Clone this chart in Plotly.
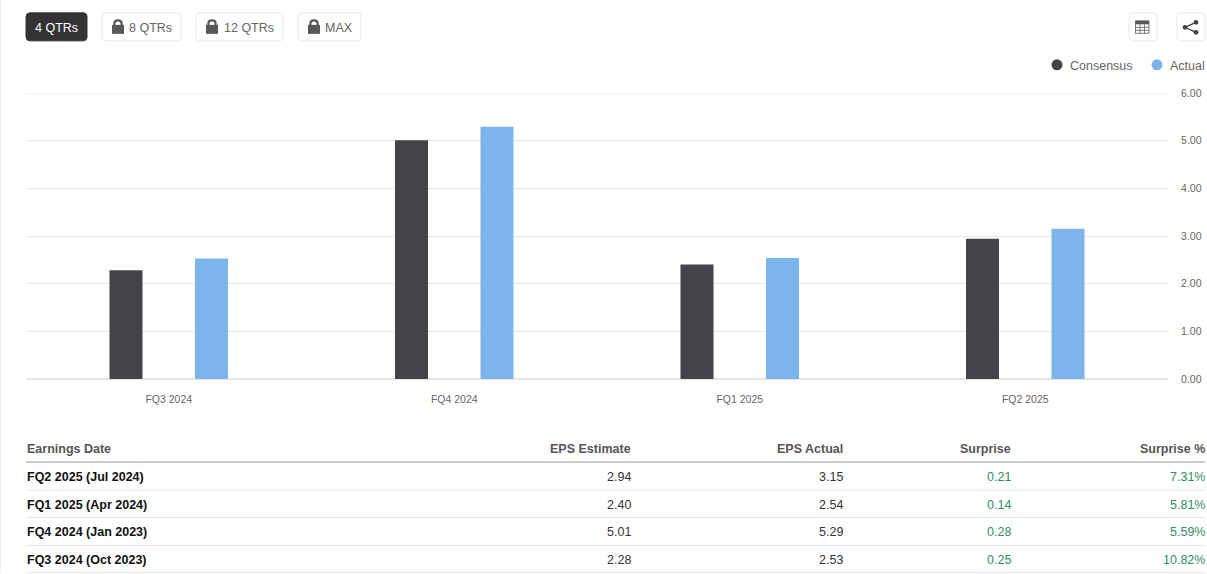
import plotly.graph_objects as go

W, H = 1207, 574
L, R, T, B = 26, 1168, 93.2, 379.4

quarters = ["FQ3 2024", "FQ4 2024", "FQ1 2025", "FQ2 2025"]
consensus = [2.28, 5.01, 2.40, 2.94]
actual = [2.53, 5.29, 2.54, 3.15]
y_ticks = [0, 1, 2, 3, 4, 5, 6]

table_headers = ["Earnings Date", "EPS Estimate", "EPS Actual", "Surprise", "Surprise %"]
row_dates = ["FQ2 2025 (Jul 2024)", "FQ1 2025 (Apr 2024)", "FQ4 2024 (Jan 2023)", "FQ3 2024 (Oct 2023)"]
row_estimate = ["2.94", "2.40", "5.01", "2.28"]
row_actual = ["3.15", "2.54", "5.29", "2.53"]
row_surprise = ["0.21", "0.14", "0.28", "0.25"]
row_surprise_pct = ["7.31%", "5.81%", "5.59%", "10.82%"]

range_buttons = ["4 QTRs", "8 QTRs", "12 QTRs", "MAX"]

FONT = "Liberation Sans, Arial, sans-serif"
DARK = "#434348"
BLUE = "#7cb5ec"
GRID = "#e6e6e6"
GREEN = "#2f8f5f"
ICON = "#58585a"


def px(x):
    return (x - L) / (R - L)


def py(y):
    return (B - y) / (B - T)


def P(x, y):
    return f"{px(x):.5f},{py(y):.5f}"


annotations = []
shapes = []


def text(x, y, s, size=12.5, color="#333", anchor="left", bold=False):
    annotations.append(dict(
        xref="paper", yref="paper", x=px(x), y=py(y), text=f"<b>{s}</b>" if bold else s,
        showarrow=False, xanchor=anchor, yanchor="middle", align=anchor,
        font=dict(family=FONT, size=size, color=color),
        borderpad=0, borderwidth=0,
    ))


def hline(x0, x1, y, color, width=1):
    shapes.append(dict(type="line", xref="paper", yref="paper", x0=px(x0), x1=px(x1),
                       y0=py(y), y1=py(y), line=dict(color=color, width=width), layer="below"))


def round_rect(x0, y0, x1, y1, r, fill, line):
    d = (f"M {P(x0 + r, y0)} L {P(x1 - r, y0)} Q {P(x1, y0)} {P(x1, y0 + r)} "
         f"L {P(x1, y1 - r)} Q {P(x1, y1)} {P(x1 - r, y1)} "
         f"L {P(x0 + r, y1)} Q {P(x0, y1)} {P(x0, y1 - r)} "
         f"L {P(x0, y0 + r)} Q {P(x0, y0)} {P(x0 + r, y0)} Z")
    shapes.append(dict(type="path", xref="paper", yref="paper", path=d,
                       fillcolor=fill, line=dict(color=line, width=1)))


def lock(cx, top):
    shapes.append(dict(type="rect", xref="paper", yref="paper", x0=px(cx - 6), x1=px(cx + 6),
                       y0=py(top + 5.5), y1=py(top + 14.5), fillcolor=ICON, line=dict(width=0)))
    d = (f"M {P(cx - 3.6, top + 6)} L {P(cx - 3.6, top + 4)} Q {P(cx - 3.6, top + 1)} {P(cx, top + 1)} "
         f"Q {P(cx + 3.6, top + 1)} {P(cx + 3.6, top + 4)} L {P(cx + 3.6, top + 6)}")
    shapes.append(dict(type="path", xref="paper", yref="paper", path=d,
                       line=dict(color=ICON, width=2.2)))


# left page edge
shapes.append(dict(type="line", xref="paper", yref="paper", x0=px(0.5), x1=px(0.5), y0=py(574), y1=py(0),
                   line=dict(color="#f0f0f0", width=1)))

# top gridline sits on the plot edge, where the axis does not draw it
shapes.append(dict(type="line", xref="paper", yref="y", x0=0, x1=1, y0=y_ticks[-1], y1=y_ticks[-1],
                   line=dict(color=GRID, width=1.2), layer="below"))

# range buttons
btn_boxes = [(26, 87), (102, 181), (196, 283), (298, 361)]
btn_text_x = [56.5, 150, 249, 339]
for i, (name, (x0, x1), tx) in enumerate(zip(range_buttons, btn_boxes, btn_text_x)):
    if i == 0:
        round_rect(x0, 13, x1, 41, 4, "#333333", "#333333")
        text(tx, 28.2, name, color="#ffffff", anchor="center")
    else:
        round_rect(x0, 13, x1, 41, 4, "#ffffff", "#e8e8e8")
        text(tx, 28.2, name, color="#666666", anchor="center")
        lock(x0 + 16, 19.5)

# table icon button
round_rect(1129, 13, 1157, 41, 4, "#ffffff", "#e8e8e8")
shapes.append(dict(type="rect", xref="paper", yref="paper", x0=px(1135.5), x1=px(1149), y0=py(21), y1=py(33.5),
                   fillcolor="#ffffff", line=dict(color="#77777a", width=1)))
shapes.append(dict(type="rect", xref="paper", yref="paper", x0=px(1135.5), x1=px(1149), y0=py(21), y1=py(24.5),
                   fillcolor=ICON, line=dict(width=0)))
for gx in (1140, 1144.5):
    shapes.append(dict(type="line", xref="paper", yref="paper", x0=px(gx), x1=px(gx), y0=py(24.5), y1=py(33.5),
                       line=dict(color="#77777a", width=1)))
for gy in (27.5, 30.5):
    shapes.append(dict(type="line", xref="paper", yref="paper", x0=px(1135.5), x1=px(1149), y0=py(gy), y1=py(gy),
                       line=dict(color="#77777a", width=1)))

# share icon button
round_rect(1177, 13, 1205, 41, 4, "#ffffff", "#e8e8e8")
shapes.append(dict(type="path", xref="paper", yref="paper",
                   path=f"M {P(1196, 22.5)} L {P(1185, 27.5)} L {P(1196, 32.5)}",
                   line=dict(color="#444444", width=1.3)))
for cx, cy, r in [(1196, 22.5, 2.4), (1185, 27.5, 2.4), (1196, 32.5, 2.4)]:
    shapes.append(dict(type="circle", xref="paper", yref="paper", x0=px(cx - r), x1=px(cx + r),
                       y0=py(cy - r), y1=py(cy + r), fillcolor="#444444", line=dict(width=0)))

# legend
for cx, col, label, tx in [(1057, DARK, "Consensus", 1070), (1157, BLUE, "Actual", 1170)]:
    shapes.append(dict(type="circle", xref="paper", yref="paper", x0=px(cx - 5.5), x1=px(cx + 5.5),
                       y0=py(65 - 5.5), y1=py(65 + 5.5), fillcolor=col, line=dict(width=0)))
    text(tx, 65.8, label, color="#666666")

# table
col_x = [27, 631, 843, 1011, 1205]
header_y = 449
row_ys = [477, 505, 532.5, 560.5]
for i, (h, x) in enumerate(zip(table_headers, col_x)):
    text(x, header_y, h, color="#555555", anchor="left" if i == 0 else "right", bold=True)
hline(26, 1205, 462.5, "#999999")
for y in (490.5, 518, 546, 573):
    hline(26, 1205, y, "#e6e6e6")
for i, y in enumerate(row_ys):
    text(col_x[0], y, row_dates[i], color="#111111", bold=True)
    text(col_x[1], y, row_estimate[i], color="#333333", anchor="right")
    text(col_x[2], y, row_actual[i], color="#333333", anchor="right")
    text(col_x[3], y, row_surprise[i], color=GREEN, anchor="right")
    text(col_x[4], y, row_surprise_pct[i], color=GREEN, anchor="right")

fig = go.Figure()
fig.add_bar(name="Consensus", x=quarters, y=consensus, marker=dict(color=DARK, line=dict(width=0)))
fig.add_bar(name="Actual", x=quarters, y=actual, marker=dict(color=BLUE, line=dict(width=0)))

fig.update_layout(
    width=W, height=H, autosize=False,
    margin=dict(l=L, r=W - R, t=T, b=H - B, pad=0),
    paper_bgcolor="#ffffff", plot_bgcolor="#ffffff",
    barmode="group", bargap=0.401, bargroupgap=0.614,
    showlegend=False,
    shapes=shapes, annotations=annotations,
    font=dict(family=FONT, size=10.5, color="#666666"),
    xaxis=dict(type="category", automargin=False, showgrid=False, zeroline=False, showline=False, ticks="outside",
               ticklen=10, tickcolor="rgba(0,0,0,0)", tickfont=dict(size=10.5, color="#666666")),
    yaxis=dict(side="right", automargin=False, range=[0, 6], tickvals=y_ticks, tickformat=".2f", gridcolor=GRID,
               gridwidth=1.2, zeroline=True, zerolinecolor=GRID, zerolinewidth=1.5, showline=False, ticks="outside",
               ticklen=10, tickcolor="rgba(0,0,0,0)", tickfont=dict(size=10.5, color="#666666")),
)

fig.write_html("out.html", config=dict(displayModeBar=False),
               post_script="document.body.style.margin='0';document.body.style.overflow='hidden';")
